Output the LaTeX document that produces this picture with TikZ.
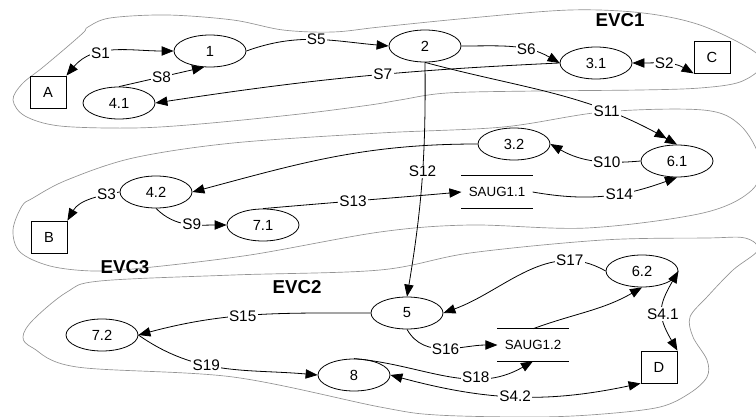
\documentclass[tikz,border=0pt]{standalone}
\usepackage{fontspec}
\setmainfont{Liberation Sans}
\usetikzlibrary{arrows.meta,shapes.geometric,positioning}
\tikzset{
  >={Triangle[length=9pt,width=7pt]},
  evcline/.style={gray!85, line width=0.5pt},
  evclbl/.style={font=\fontsize{14}{16}\selectfont\bfseries},
  fnode/.style={ellipse, draw, fill=white, line width=0.6pt, minimum width=54pt,
                minimum height=24pt, inner sep=0pt, font=\fontsize{11}{13}\selectfont},
  term/.style={rectangle, draw, fill=white, line width=0.6pt, minimum width=27pt,
               minimum height=24pt, inner sep=0pt, font=\fontsize{11}{13}\selectfont},
  store/.style={minimum width=53pt, minimum height=24pt, inner sep=0pt,
                font=\fontsize{10}{12}\selectfont},
  flow/.style={->, line width=0.6pt},
  flowtwo/.style={-{Triangle[length=9pt,width=7pt] Triangle[length=9pt,width=7pt]}, line width=0.6pt},
  slbl/.style={fill=white, inner sep=1pt, font=\fontsize{11.5}{13}\selectfont},
}
\begin{document}
\begin{tikzpicture}[x=0.75pt,y=-0.75pt]
  \useasboundingbox (0,0) rectangle (756,417);

  % regions
  \draw[evcline] plot[smooth cycle, tension=0.55] coordinates {
    (88,27) (110,18) (167,15) (233,20) (283,30) (333,32) (380,27) (470,18)
    (570,10) (643,13) (700,25) (752,50) (762,66) (740,82) (700,88) (640,90)
    (537,91) (447,93) (400,100) (370,105) (300,114) (200,124) (133,128)
    (60,126) (25,116) (13,100) (22,84) (42,68) (67,47) (84,32)};
  \draw[evcline] plot[smooth cycle, tension=0.55] coordinates {
    (33,198) (67,180) (133,158) (233,143) (380,133) (503,127) (603,112)
    (703,110) (740,125) (760,160) (752,190) (703,213) (587,228) (470,225)
    (380,232) (250,255) (143,268) (93,271) (50,266) (20,252) (13,230) (22,206)};
  \draw[evcline] plot[smooth cycle, tension=0.55] coordinates {
    (23,337) (33,320) (67,292) (100,281) (233,275) (380,270) (470,253)
    (603,240) (707,238) (745,238) (758,250) (733,270) (707,297) (690,317)
    (693,337) (707,360) (707,377) (690,393) (660,407) (603,414) (537,417)
    (437,415) (380,407) (233,377) (77,367) (33,348)};

  \node[evclbl] (evc1) at (620,20) {EVC1};
  \node[evclbl] (evc3) at (125,267) {EVC3};
  \node[evclbl] (evc2) at (297,287) {EVC2};

  % functions and terminals
  \node[term] (A) at (48,92) {A};
  \node[fnode] (one) at (210,51) {1};
  \node[fnode] (four1) at (119,103) {4.1};
  \node[fnode] (two) at (425,46) {2};
  \node[fnode] (three1) at (596,63) {3.1};
  \node[term] (C) at (712,57) {C};
  \node[fnode] (three2) at (514,144) {3.2};
  \node[fnode] (six1) at (677,161) {6.1};
  \node[store] (saug1) at (497,192) {SAUG1.1};
  \node[fnode] (four2) at (156,192) {4.2};
  \node[term] (B) at (49,237) {B};
  \node[fnode] (seven1) at (263,225) {7.1};
  \node[fnode] (five) at (407,313) {5};
  \node[fnode] (six2) at (642,271) {6.2};
  \node[store] (saug2) at (533,345) {SAUG1.2};
  \node[term] (D) at (659,367) {D};
  \node[fnode] (seven2) at (102,335) {7.2};
  \node[fnode] (eight) at (354,375) {8};

  \foreach \s in {saug1,saug2} {
    \draw[line width=0.6pt] (\s.north west) -- (\s.north east);
    \draw[line width=0.6pt] (\s.south west) -- (\s.south east);
  }

  % signals
  \draw[flow,<->] (A.north east) to[out=50,in=180] node[slbl,pos=0.37]{S1} (one.west);
  \draw[flow] (one.east) to[out=20,in=175] node[slbl]{S5} (two.west);
  \draw[flow] (four1.north) -- node[slbl]{S8} (one.250);
  \draw[flow] (two.east) to[out=0,in=150] node[slbl,pos=0.65]{S6} (three1.west);
  \draw[flow] (three1.west) to[bend right=3] node[slbl,pos=0.43]{S7} (four1.east);
  \draw[flow,<->] (three1.east) to[out=0,in=150] node[slbl,pos=0.5]{S2} (C.south west);
  \draw[flowtwo] (two.south) to[out=-15,in=150] node[slbl,pos=0.72]{S11} (six1.north);
  \draw[flow] (two.south) to[bend left=5] node[slbl,pos=0.46]{S12} (five.north);
  \draw[flow] (six1.west) to[out=185,in=-30] node[slbl,pos=0.35]{S10} (three2.east);
  \draw[flow] (three2.west) to[out=180,in=15] (four2.east);
  \draw[flow] (four2.west) to[out=190,in=60] node[slbl,pos=0.2]{S3} (B.north east);
  \draw[flow] (four2.south) to[out=-45,in=180] node[slbl,pos=0.55]{S9} (seven1.west);
  \draw[flow] (seven1.north) to[out=5,in=185] node[slbl,pos=0.45]{S13} (saug1.west);
  \draw[flow] (saug1.east) to[out=-10,in=200] node[slbl,pos=0.6]{S14} (six1.south);
  \draw[flow] (six2.west) to[out=150,in=20] node[slbl,pos=0.22]{S17} (five.east);
  \draw[flow] (saug2.north) to[out=20,in=210] (six2.south);
  \draw[flow,<->] (six2.east) to[out=240,in=120,looseness=1.3] node[slbl,pos=0.55]{S4.1} (D.north east);
  \draw[flow] (five.west) to[out=180,in=15] node[slbl,pos=0.55]{S15} (seven2.east);
  \draw[flow] (five.south) to[out=-60,in=180] node[slbl,pos=0.5]{S16} (saug2.west);
  \draw[flow] (eight.north) to[out=-5,in=210] node[slbl,pos=0.67]{S18} (saug2.south);
  \draw[flow] (seven2.east) to[out=-35,in=175] node[slbl,pos=0.4]{S19} (eight.west);
  \draw[flow,<->] (eight.east) to[out=-15,in=192] node[slbl,pos=0.5]{S4.2} (D.south west);
\end{tikzpicture}
\end{document}
